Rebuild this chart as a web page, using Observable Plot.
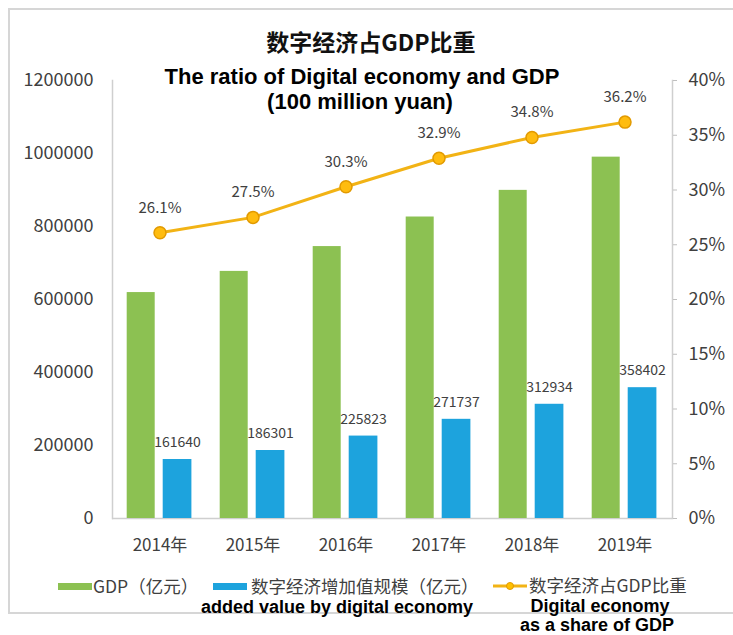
<!DOCTYPE html>
<html>
<head>
<meta charset="utf-8">
<script src="https://cdn.jsdelivr.net/npm/d3@7"></script>
<script src="https://cdn.jsdelivr.net/npm/@observablehq/plot@0.6"></script>
<style>
  html, body { margin: 0; padding: 0; background: #fff; }
  #wrap { position: relative; width: 733px; height: 635px; overflow: hidden; }
  #frame { position: absolute; left: 8px; top: 8px; width: 740px; height: 606px; border: 2px solid #d6d6d6; box-sizing: border-box; pointer-events: none; }
  .t { position: absolute; white-space: nowrap; line-height: 1; }
  .c { transform: translate(-50%, -50%); }
  .l { transform: translate(0, -50%); }
  .cn { font-family: "Noto Sans CJK SC", sans-serif; }
  .en { font-family: "Liberation Sans", Arial, sans-serif; font-weight: bold; color: #000; }
  .sw { position: absolute; height: 7px; width: 34px; }
  #chart { position: absolute; left: 0; top: 0; }
</style>
</head>
<body>
<div id="wrap">
  <div id="chart"></div>
  <div id="frame"></div>
  <div class="t c cn" style="left:371px; top:41px; font-size:23px; font-weight:bold; color:#111;">数字经济占GDP比重</div>
  <div class="t c en" style="left:362px; top:77px; font-size:22px;">The ratio of Digital economy and GDP</div>
  <div class="t c en" style="left:360px; top:102px; font-size:22px;">(100 million yuan)</div>

  <div class="sw" style="left:58px; top:583px; background:#8CC152;"></div>
  <div class="t l cn" style="left:93px; top:586px; font-size:17.5px; color:#404040;">GDP（亿元）</div>
  <div class="sw" style="left:213px; top:583px; background:#1DA3DD;"></div>
  <div class="t l cn" style="left:251px; top:586px; font-size:17.5px; color:#404040;">数字经济增加值规模（亿元）</div>
  <svg style="position:absolute; left:490px; top:579px;" width="40" height="14">
    <line x1="3" y1="7" x2="37" y2="7" stroke="#F2B315" stroke-width="3"></line>
    <circle cx="20" cy="7" r="3.5" fill="#FFC000" stroke="#E29A00" stroke-width="1"></circle>
  </svg>
  <div class="t l cn" style="left:529px; top:585px; font-size:17.5px; color:#404040;">数字经济占GDP比重</div>

  <div class="t c en" style="left:337px; top:607px; font-size:18px;">added value by digital economy</div>
  <div class="t c en" style="left:600px; top:606px; font-size:18px;">Digital economy</div>
  <div class="t c en" style="left:597px; top:625px; font-size:18px;">as a share of GDP</div>
</div>
<script>
// ---- data ----
const years = ["2014年", "2015年", "2016年", "2017年", "2018年", "2019年"];
const gdp = [619000, 677000, 745000, 826000, 899000, 990000];          // GDP（亿元）
const digital = [161640, 186301, 225823, 271737, 312934, 358402];      // 数字经济增加值规模（亿元）
const share = [26.1, 27.5, 30.3, 32.9, 34.8, 36.2];                    // 数字经济占GDP比重 (%)
const leftTicks = [0, 200000, 400000, 600000, 800000, 1000000, 1200000];
const rightTicks = [0, 5, 10, 15, 20, 25, 30, 35, 40];                 // %

const leftMax = 1200000, rightMax = 40;
const k = leftMax / rightMax; // map percent onto left scale

const rows = years.map((year, i) => ({year, gdp: gdp[i], digital: digital[i], share: share[i]}));

const chart = Plot.plot({
  width: 733,
  height: 635,
  marginLeft: 112,
  marginRight: 61,
  marginTop: 80,
  marginBottom: 117,
  style: {fontFamily: "Noto Sans CJK SC, sans-serif", fontSize: "18px", color: "#404040", background: "transparent"},
  x: {type: "band", domain: years, padding: 0, axis: null},
  y: {domain: [0, leftMax], axis: null},
  marks: [
    Plot.frame({anchor: "left", stroke: "#cfcfcf", strokeWidth: 1.5}),
    Plot.frame({anchor: "right", stroke: "#cfcfcf", strokeWidth: 1.5}),
    Plot.ruleY([0], {stroke: "#cfcfcf", strokeWidth: 1.5}),
    Plot.barY(rows, {x: "year", y: "gdp", fill: "#8CC152", insetLeft: 13.7, insetRight: 51.3}),
    Plot.barY(rows, {x: "year", y: "digital", fill: "#1DA3DD", insetLeft: 49.7, insetRight: 14.6}),
    Plot.text(rows, {x: "year", y: "digital", text: d => String(d.digital), dx: 17.5, dy: -17, fontSize: 14, fill: "#404040"}),
    Plot.line(rows, {x: "year", y: d => d.share * k, stroke: "#F2B315", strokeWidth: 3}),
    Plot.dot(rows, {x: "year", y: d => d.share * k, r: 6, fill: "#FFBC0F", stroke: "#E29A00", strokeWidth: 1.5}),
    Plot.text(rows, {x: "year", y: d => d.share * k, text: d => d.share.toFixed(1) + "%", dy: -25, fontSize: 15, fill: "#404040"}),
    Plot.axisY(leftTicks, {anchor: "left", tickSize: 0, tickPadding: 19, tickFormat: d => String(d), label: null, fontSize: 18}),
    Plot.axisY(rightTicks.map(p => p * k), {anchor: "right", tickSize: 4, tickPadding: 12, stroke: "#bfbfbf", tickFormat: v => Math.round(v / k) + "%", label: null, fontSize: 18}),
    Plot.axisX(years, {anchor: "bottom", tickSize: 0, tickPadding: 20, label: null, fontSize: 17})
  ]
});
document.getElementById("chart").appendChild(chart);
</script>
</body>
</html>
